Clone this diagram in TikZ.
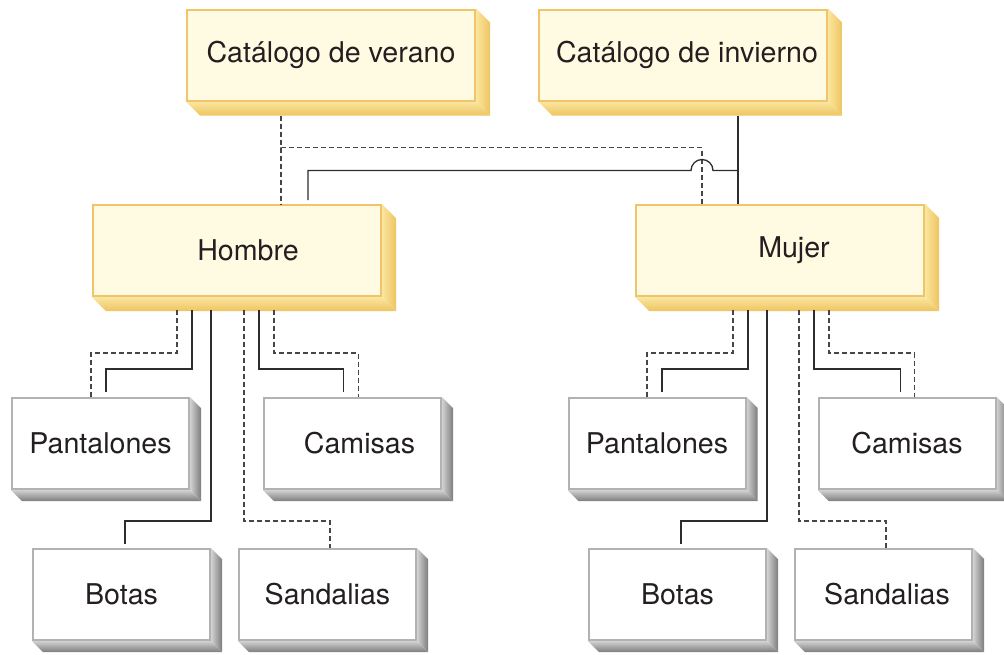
\documentclass[tikz,border=0pt]{standalone}
\usepackage{fontspec}
\setmainfont{TeX Gyre Heros}
\usetikzlibrary{positioning, backgrounds}

\definecolor{creamfill}{RGB}{255,251,227}
\definecolor{catline}{RGB}{242,196,106}
\definecolor{catlite}{RGB}{250,230,160}
\definecolor{catdark}{RGB}{238,196,96}
\definecolor{itemline}{RGB}{178,178,178}
\definecolor{itemlite}{RGB}{210,210,210}
\definecolor{itemdark}{RGB}{125,125,125}
\definecolor{linec}{RGB}{45,45,45}
\definecolor{dashc}{RGB}{70,70,70}
\definecolor{inkc}{RGB}{35,31,32}

% extruded side faces: node, depth, near colour, far colour
\newcommand{\extrude}[4]{%
  \shade[left color=#3, right color=#4] (#1.north east) -- ([shift={(#2,-#2)}]#1.north east)
    -- ([shift={(#2,-#2)}]#1.south east) -- (#1.south east) -- cycle;
  \shade[top color=#3, bottom color=#4] (#1.south west) -- (#1.south east)
    -- ([shift={(#2,-#2)}]#1.south east) -- ([shift={(#2,-#2)}]#1.south west) -- cycle;
}
% push a label off centre
\newcommand{\nudge}[1]{\hspace*{#1}}

\begin{document}
\begin{tikzpicture}[
  x=1pt, y=1pt,
  catbox/.style={rectangle, draw=catline, line width=2pt, fill=creamfill,
                 minimum width=288pt, minimum height=91pt, text=inkc,
                 font=\fontsize{28.6}{34}\selectfont},
  itembox/.style={rectangle, draw=itemline, line width=2pt, fill=white,
                  minimum width=177pt, minimum height=91pt, text=inkc,
                  font=\fontsize{28.6}{34}\selectfont},
  solidln/.style={line width=1.3pt, draw=linec},
  dashln/.style={line width=1.3pt, draw=dashc, dash pattern=on 5pt off 3pt}
]
\useasboundingbox (0,0) rectangle (1004,-654);

% --- Catalogues (top row) ---
\node[catbox] (verano) at (331,-55) {Catálogo de verano};
\node[catbox, right=62pt of verano] (invierno) {\nudge{8pt}Catálogo de invierno};

% --- Groups ---
\node[catbox] (hombre) at (237,-250.5) {\nudge{22pt}Hombre};
\node[catbox, right=253pt of hombre] (mujer) {\nudge{28pt}Mujer};

% --- Items ---
\node[itembox] (pantH) at (100.5,-443.5) {Pantalones};
\node[itembox, right=73pt of pantH] (camH) {\nudge{14pt}Camisas};
\node[itembox] (botH) at (121.5,-594.5) {Botas};
\node[itembox, right=27pt of botH] (sanH) {Sandalias};

\node[itembox] (pantM) at (657,-443.5) {Pantalones};
\node[itembox, right=71pt of pantM] (camM) {Camisas};
\node[itembox] (botM) at (677.5,-594.5) {Botas};
\node[itembox, right=27pt of botM] (sanM) {\nudge{7pt}Sandalias};

% --- 3D sides ---
\begin{scope}[on background layer]
  \foreach \n in {verano, invierno, hombre, mujer}
    {\extrude{\n}{14pt}{catlite}{catdark}}
  \foreach \n in {pantH, camH, botH, sanH, pantM, camM, botM, sanM}
    {\extrude{\n}{11pt}{itemlite}{itemdark}}
\end{scope}

% --- Catalogue links ---
\draw[dashln] ([xshift=-50pt,yshift=-14pt]verano.south) -- ([xshift=44pt]hombre.north);
\draw[dashln] ([xshift=-50pt,yshift=-14pt]verano.south) -- ++(0,-32pt) -| ([xshift=-78pt]mujer.north);
\draw[solidln] ([xshift=55pt,yshift=-14pt]invierno.south) -- ([xshift=-42pt]mujer.north);
\draw[solidln] ([xshift=55pt,yshift=-69pt]invierno.south) -- ++(-25pt,0)
  arc[start angle=0, end angle=180, radius=11pt] -| ([xshift=71pt,yshift=4pt]hombre.north);

% --- Hombre links ---
\draw[dashln] ([xshift=-60pt,yshift=-13pt]hombre.south) -- ++(0,-43pt) -| ([xshift=-9.5pt]pantH.north);
\draw[solidln] ([xshift=-45pt,yshift=-13pt]hombre.south) -- ++(0,-59pt) -| ([xshift=5.5pt,yshift=5pt]pantH.north);
\draw[solidln] ([xshift=-26pt,yshift=-13pt]hombre.south) -- ++(0,-211pt) -| ([xshift=3.5pt,yshift=4pt]botH.north);
\draw[dashln] ([xshift=7pt,yshift=-13pt]hombre.south) -- ++(0,-211pt) -| ([xshift=2.5pt]sanH.north);
\draw[solidln] ([xshift=22pt,yshift=-13pt]hombre.south) -- ++(0,-59pt) -| ([xshift=-9pt,yshift=5pt]camH.north);
\draw[dashln] ([xshift=37pt,yshift=-13pt]hombre.south) -- ++(0,-43pt) -| ([xshift=6pt]camH.north);

% --- Mujer links ---
\draw[dashln] ([xshift=-47pt,yshift=-13pt]mujer.south) -- ++(0,-43pt) -| ([xshift=-10pt]pantM.north);
\draw[solidln] ([xshift=-32pt,yshift=-13pt]mujer.south) -- ++(0,-59pt) -| ([xshift=5pt,yshift=5pt]pantM.north);
\draw[solidln] ([xshift=-13pt,yshift=-13pt]mujer.south) -- ++(0,-211pt) -| ([xshift=3.5pt,yshift=4pt]botM.north);
\draw[dashln] ([xshift=19pt,yshift=-13pt]mujer.south) -- ++(0,-211pt) -| ([xshift=2.5pt]sanM.north);
\draw[solidln] ([xshift=34pt,yshift=-13pt]mujer.south) -- ++(0,-59pt) -| ([xshift=-6.5pt,yshift=5pt]camM.north);
\draw[dashln] ([xshift=49pt,yshift=-13pt]mujer.south) -- ++(0,-43pt) -| ([xshift=7.5pt]camM.north);

\end{tikzpicture}
\end{document}
